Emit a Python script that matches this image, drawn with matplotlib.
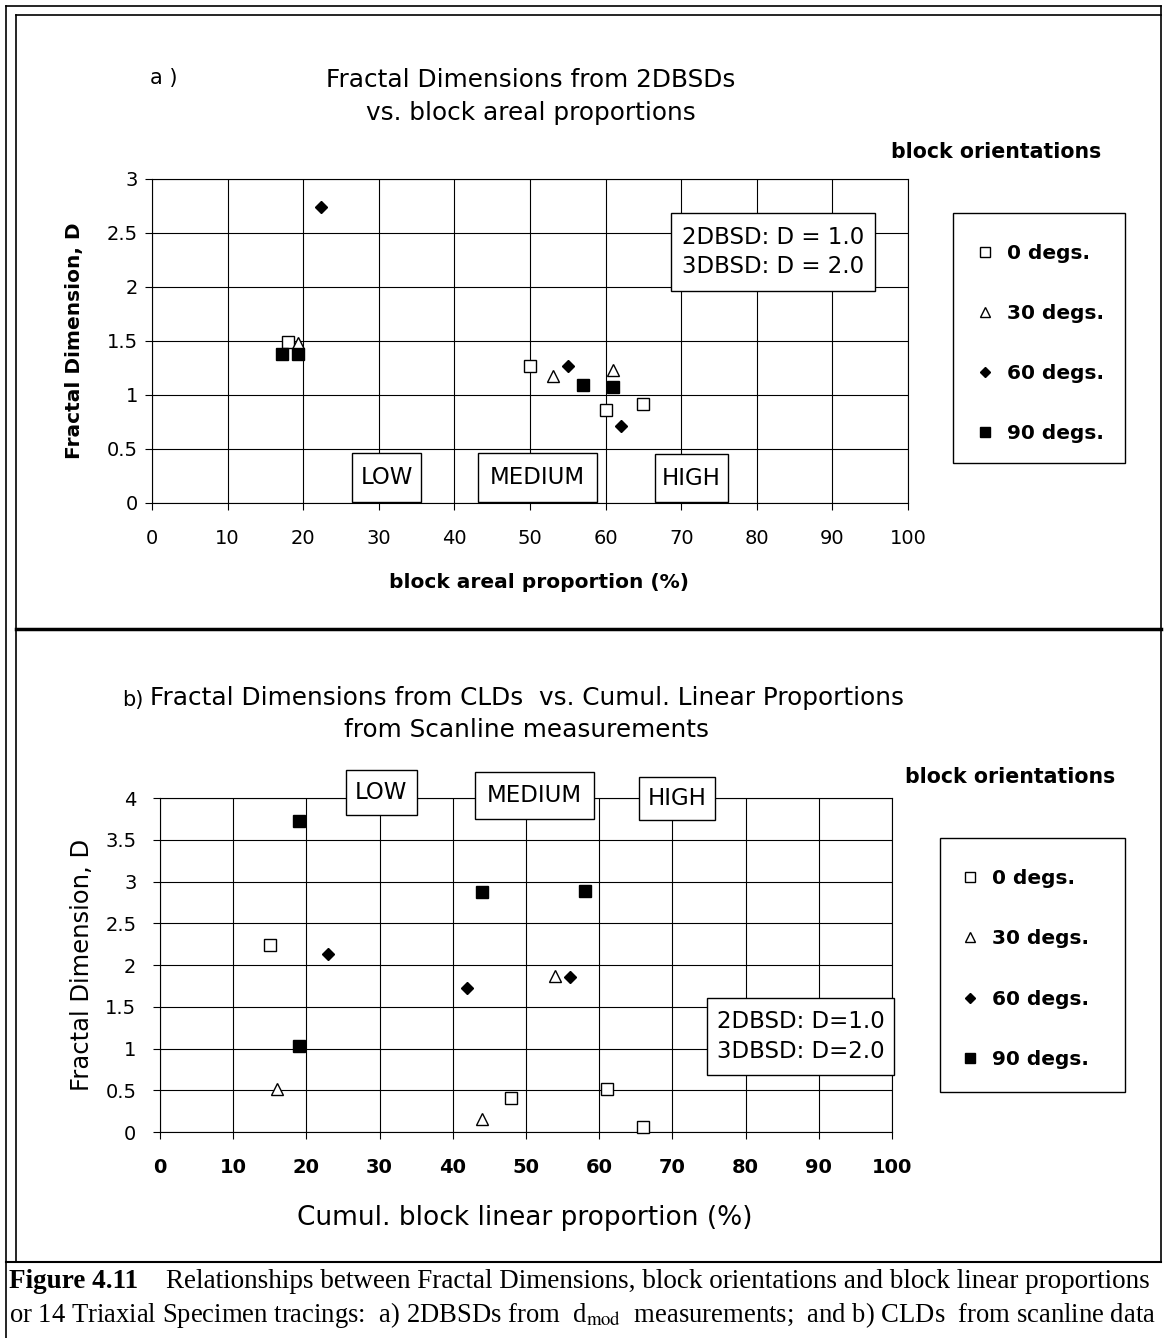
import numpy as np
import matplotlib.pyplot as plt
from matplotlib.lines import Line2D
from matplotlib.patches import Rectangle
from matplotlib.ticker import FuncFormatter

plt.rcParams['font.family'] = ['DejaVu Sans']
plt.rcParams['mathtext.fontset'] = 'stix'

W, H = 1164, 1338  # page size in px

# legend labels (block orientations)
labels = ["0 degs.", "30 degs.", "60 degs.", "90 degs."]

# a) fractal dimension from 2DBSDs vs block areal proportion (%)
a_x0 = [18, 50, 60, 65]
a_y0 = [1.49, 1.27, 0.86, 0.92]
a_x30 = [19.3, 53, 61]
a_y30 = [1.48, 1.18, 1.23]
a_x60 = [22.4, 55, 62]
a_y60 = [2.74, 1.27, 0.71]
a_x90 = [17.2, 19.3, 57, 61]
a_y90 = [1.38, 1.38, 1.09, 1.07]

# b) fractal dimension from CLDs vs cumul. block linear proportion (%)
b_x0 = [15, 48, 61, 66]
b_y0 = [2.24, 0.41, 0.52, 0.06]
b_x30 = [16, 44, 54]
b_y30 = [0.52, 0.16, 1.87]
b_x60 = [23, 42, 56]
b_y60 = [2.13, 1.72, 1.86]
b_x90 = [19, 19, 44, 58]
b_y90 = [3.72, 1.03, 2.88, 2.89]

xticks = np.arange(0, 101, 10)
a_yticks = np.arange(0, 3.01, 0.5)
b_yticks = np.arange(0, 4.01, 0.5)
classes = ["LOW", "MEDIUM", "HIGH"]
# class boxes (x from, x to) on each panel
a_class_x = [(26.5, 35.6), (43.1, 58.9), (66.5, 76.2)]
a_class_y = [(0.01, 0.46), (0.01, 0.46), (0.01, 0.45)]
b_class_x = [(25.4, 35.1), (43.0, 59.3), (65.4, 75.8)]
b_class_y = [(3.80, 4.34), (3.75, 4.31), (3.74, 4.25)]


def fx(x):
    return x / W


def fy(y):
    return 1 - y / H


def pline(x1, y1, x2, y2, lw=1.2):
    fig.add_artist(Line2D([fx(x1), fx(x2)], [fy(y1), fy(y2)],
                          transform=fig.transFigure, color='black', lw=lw))


def pbox(x1, y1, x2, y2):
    fig.add_artist(Rectangle((fx(x1), fy(y2)), (x2 - x1) / W, (y2 - y1) / H,
                             transform=fig.transFigure, fc='white',
                             ec='black', lw=1, zorder=1))


def boxed(ax, xr, yr, text, fs, ls=1.2):
    ax.add_patch(Rectangle((xr[0], yr[0]), xr[1] - xr[0], yr[1] - yr[0],
                           fc='white', ec='black', lw=1, zorder=4, clip_on=False))
    ax.text((xr[0] + xr[1]) / 2, (yr[0] + yr[1]) / 2, text, fontsize=fs,
            ha='center', va='center', linespacing=ls, zorder=5, clip_on=False)


styles = [dict(marker='s', mfc='white', ms=9),
          dict(marker='^', mfc='white', ms=9),
          dict(marker='D', mfc='black', ms=6.3),
          dict(marker='s', mfc='black', ms=9)]

fig = plt.figure(figsize=(W / 100, H / 100), dpi=100)


def setup(ax, yticks, ypad):
    ax.set_xlim(0, 100)
    ax.set_ylim(yticks[0], yticks[-1])
    ax.set_xticks(xticks)
    ax.set_yticks(yticks)
    ax.yaxis.set_major_formatter(FuncFormatter(lambda v, p: "%g" % v))
    ax.grid(True, color='black', lw=0.8)
    ax.set_axisbelow(True)
    for s in ax.spines.values():
        s.set_linewidth(0.8)
    ax.tick_params(direction='out', length=5, width=0.8, labelsize=14)
    ax.tick_params(axis='y', pad=ypad)
    ax.tick_params(axis='x', pad=14)


# legend frame is drawn separately (pbox), entries are placed inside it
legend_kw = dict(loc='center left', frameon=False,
                 prop=dict(weight='bold', size=14.5),
                 labelspacing=2.05, borderpad=0, handlelength=1.0,
                 handletextpad=0.6, borderaxespad=0, markerscale=0.85)

# ---------- panel a ----------
axa = fig.add_axes([fx(152), fy(503), (908 - 152) / W, (503 - 179) / H])
setup(axa, a_yticks, 5)
series_a = [(a_x0, a_y0), (a_x30, a_y30), (a_x60, a_y60), (a_x90, a_y90)]
hands = []
for (xs, ys), st, lab in zip(series_a, styles, labels):
    h, = axa.plot(xs, ys, ls='none', mec='black', mew=1.0, label=lab,
                  clip_on=False, zorder=3, **st)
    hands.append(h)

boxed(axa, (68.65, 95.6), (1.963, 2.685), "2DBSD: D = 1.0\n3DBSD: D = 2.0", 16.5, 1.35)
for xr, yr, t in zip(a_class_x, a_class_y, classes):
    boxed(axa, xr, yr, t, 16.5)

fig.text(fx(150), fy(78), "a )", fontsize=15, va='center', ha='left')
fig.text(fx(531), fy(80), "Fractal Dimensions from 2DBSDs", fontsize=17.8,
         ha='center', va='center')
fig.text(fx(531), fy(113), "vs. block areal proportions", fontsize=17.8,
         ha='center', va='center')
fig.text(fx(996), fy(152), "block orientations", fontsize=14.8, fontweight='bold',
         ha='center', va='center')
fig.text(fx(539), fy(583), "block areal proportion (%)", fontsize=14.5,
         fontweight='bold', ha='center', va='center')
fig.text(fx(75), fy(341), "Fractal Dimension, D", fontsize=14.5,
         fontweight='bold', rotation=90, ha='center', va='center')

pbox(953, 213, 1125, 463)
lega = fig.legend(hands, labels, bbox_to_anchor=(fx(975), fy(343.5)), **legend_kw)
lega.set_zorder(2)

# ---------- panel b ----------
axb = fig.add_axes([fx(160), fy(1132), (892 - 160) / W, (1132 - 798) / H])
setup(axb, b_yticks, 12)
for t in axb.get_xticklabels():
    t.set_fontweight('bold')
series_b = [(b_x0, b_y0), (b_x30, b_y30), (b_x60, b_y60), (b_x90, b_y90)]
hands = []
for (xs, ys), st, lab in zip(series_b, styles, labels):
    h, = axb.plot(xs, ys, ls='none', mec='black', mew=1.0, label=lab,
                  clip_on=False, zorder=3, **st)
    hands.append(h)

boxed(axb, (74.7, 100.3), (0.683, 1.605), "2DBSD: D=1.0\n3DBSD: D=2.0", 16.5, 1.35)
for xr, yr, t in zip(b_class_x, b_class_y, classes):
    boxed(axb, xr, yr, t, 16.5)

fig.text(fx(122), fy(700), "b)", fontsize=15, va='center', ha='left')
fig.text(fx(150), fy(698),
         "Fractal Dimensions from CLDs  vs. Cumul. Linear Proportions",
         fontsize=17.8, ha='left', va='center')
fig.text(fx(526), fy(730), "from Scanline measurements", fontsize=17.8,
         ha='center', va='center')
fig.text(fx(1010), fy(777), "block orientations", fontsize=14.8,
         fontweight='bold', ha='center', va='center')
fig.text(fx(525), fy(1218), "Cumul. block linear proportion (%)",
         fontsize=19, ha='center', va='center')
fig.text(fx(82), fy(965), "Fractal Dimension, D", fontsize=17.5,
         rotation=90, ha='center', va='center')

pbox(940, 838, 1125, 1092)
legb = fig.legend(hands, labels, bbox_to_anchor=(fx(960), fy(969)), **legend_kw)
legb.set_zorder(2)

# ---------- page frame ----------
pline(6, 6, 1161, 6)
pline(6, 6, 6, 1338)
pline(16, 15, 1161, 15)
pline(16, 15, 16, 1262)
pline(1161, 6, 1161, 1262)
pline(6, 1262, 1161, 1262, lw=1.5)
pline(16, 629, 1161, 629, lw=2.5)

# ---------- caption ----------
fig.text(fx(9), fy(1282), "Figure 4.11", family='Liberation Serif',
         fontweight='bold', fontsize=19.5, ha='left', va='center')
fig.text(fx(166), fy(1282),
         "Relationships between Fractal Dimensions, block orientations and block linear proportions",
         family='Liberation Serif', fontsize=19.5, ha='left', va='center')
fig.text(fx(9), fy(1315),
         "or 14 Triaxial Specimen tracings:  a) 2DBSDs from  d$_{\\mathrm{mod}}$  measurements;  and b) CLDs  from scanline data",
         family='Liberation Serif', fontsize=19.2, ha='left', va='center')

fig.savefig("out.png", dpi=100)
